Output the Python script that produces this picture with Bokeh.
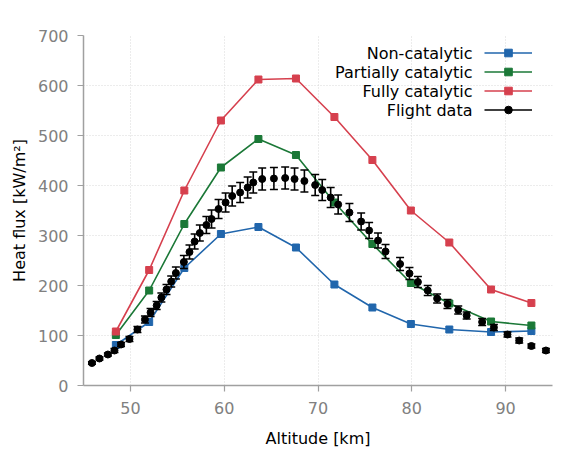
from bokeh.plotting import figure
from bokeh.models import (ColumnDataSource, Legend, LegendItem, Label, Range1d, FixedTicker)
from bokeh.embed import file_html
from bokeh.resources import INLINE

# ---- data ----
model_alt = [48.45, 52.0, 55.75, 59.65, 63.65, 67.65, 71.75, 75.8, 79.9, 84.0, 88.45, 92.75]
non_catalytic = [81, 127, 235, 303, 317, 276, 202, 156, 123, 112, 107, 109]
partially_catalytic = [101, 190, 323, 436, 493, 461, 366, 283, 205, 164, 128, 120]
fully_catalytic = [108, 231, 390, 530, 612, 614, 537, 451, 350, 286, 192, 165]

flight_alt = [45.9, 46.7, 47.6, 48.3, 49.0, 49.9, 50.75, 51.55, 52.15, 52.8, 53.3, 53.85,
              54.35, 54.85, 55.7, 56.3, 56.85, 57.4, 58.1, 58.65, 59.4, 60.15, 60.85,
              61.7, 62.5, 63.1, 64.05, 65.3, 66.5, 67.5, 68.55, 69.7, 70.45, 71.35,
              72.15, 73.35, 74.6, 75.45, 76.4, 77.2, 78.75, 79.75, 80.65, 81.7, 82.7,
              83.8, 84.95, 85.85, 87.5, 88.75, 90.2, 91.45, 92.75, 94.3]
flight_q = [45, 54, 62, 70, 82, 93, 112, 132, 146, 160, 176, 192, 208, 225, 247, 267,
            288, 305, 321, 333, 353, 366, 379, 386, 396, 406, 413, 414, 415, 413, 409,
            401, 391, 376, 362, 346, 328, 310, 290, 268, 243, 224, 207, 190, 174, 163,
            151, 140, 127, 116, 102, 90, 79, 70]
flight_err = [2.5, 3, 3, 4, 4, 5, 6, 7, 8, 8, 9, 10, 11, 12, 13, 14, 15, 16, 17, 18, 19,
              19, 20, 20, 21, 21, 22, 22, 22, 22, 22, 21, 21, 20, 19, 18, 17, 16, 15, 14,
              13, 12, 11, 10, 9, 9, 8, 7, 7, 6, 5, 5, 4, 4]

x_ticks = [50, 60, 70, 80, 90]
y_ticks = [0, 100, 200, 300, 400, 500, 600, 700]

labels = ["Non-catalytic", "Partially catalytic", "Fully catalytic", "Flight data"]
colors = ["#2166ac", "#1b7837", "#d6404e"]

FONT = "DejaVu Sans"
TICK_COLOR = "#808080"
FW, FH = 469, 350

p = figure(frame_width=FW, frame_height=FH, output_backend="svg", toolbar_location=None,
           x_range=Range1d(45, 95), y_range=Range1d(0, 700),
           min_border_left=83, min_border_right=15, min_border_top=35, min_border_bottom=63,
           x_axis_label="Altitude [km]", y_axis_label="Heat flux [kW/m²]")
p.outline_line_color = None
p.background_fill_color = "white"

for ax, ticks in ((p.xaxis, x_ticks), (p.yaxis, y_ticks)):
    ax.ticker = FixedTicker(ticks=ticks)
    ax.minor_tick_line_color = None
    ax.major_tick_in = 0
    ax.major_tick_out = 6
    ax.axis_line_color = "#a0a0a0"
    ax.major_tick_line_color = "#a0a0a0"
    ax.axis_line_width = 1.5
    ax.major_tick_line_width = 1.2
    ax.major_label_text_font = FONT
    ax.major_label_text_font_size = "16px"
    ax.major_label_text_color = TICK_COLOR
    ax.axis_label_text_font = FONT
    ax.axis_label_text_font_size = "16px"
    ax.axis_label_text_font_style = "normal"
    ax.axis_label_text_color = "black"
p.xaxis.major_label_standoff = 10
p.yaxis.major_label_standoff = 9
p.xaxis.axis_label_standoff = 12
p.yaxis.axis_label_standoff = 6

p.grid.grid_line_color = "#d8d8d8"
p.grid.grid_line_dash = "1 2"
p.grid.grid_line_width = 1

renderers = []
for vals, col in zip([non_catalytic, partially_catalytic, fully_catalytic], colors):
    src = ColumnDataSource(dict(x=model_alt, y=vals))
    rl = p.line("x", "y", source=src, line_color=col, line_width=1.6)
    rm = p.scatter("x", "y", source=src, marker="square", size=7, fill_color=col,
                   line_color=col)
    renderers.append([rl, rm])

fsrc = ColumnDataSource(dict(x=flight_alt, y=flight_q,
                             lower=[q - e for q, e in zip(flight_q, flight_err)],
                             upper=[q + e for q, e in zip(flight_q, flight_err)]))
seg = p.segment(x0="x", y0="lower", x1="x", y1="upper", source=fsrc,
                line_color="black", line_width=1.6)
p.scatter("x", "upper", source=fsrc, marker="dash", size=8, line_color="black",
          line_width=1.6)
p.scatter("x", "lower", source=fsrc, marker="dash", size=8, line_color="black",
          line_width=1.6)
fr = p.scatter("x", "y", source=fsrc, marker="circle", size=7, fill_color="black",
               line_color="black")

leg_top = 8
row_h = 19
leg_x = 401
items = [LegendItem(label=" ", renderers=r) for r in renderers]
items.append(LegendItem(label=" ", renderers=[seg, fr]))
legend = Legend(items=items, location=(leg_x, FH - leg_top - 4 * row_h), padding=0,
                margin=0, spacing=0, glyph_width=48, glyph_height=row_h,
                label_height=row_h, label_width=0, label_standoff=0,
                border_line_color=None, background_fill_alpha=0)
p.add_layout(legend, "center")

for i, lab in enumerate(labels):
    p.add_layout(Label(x=leg_x - 12, y=FH - leg_top - (i + 0.5) * row_h,
                       x_units="screen", y_units="screen", text=lab,
                       text_align="right", text_baseline="middle", text_font=FONT,
                       text_font_size="16px", text_color="black"))

open("out.html", "w").write(file_html(p, INLINE))
